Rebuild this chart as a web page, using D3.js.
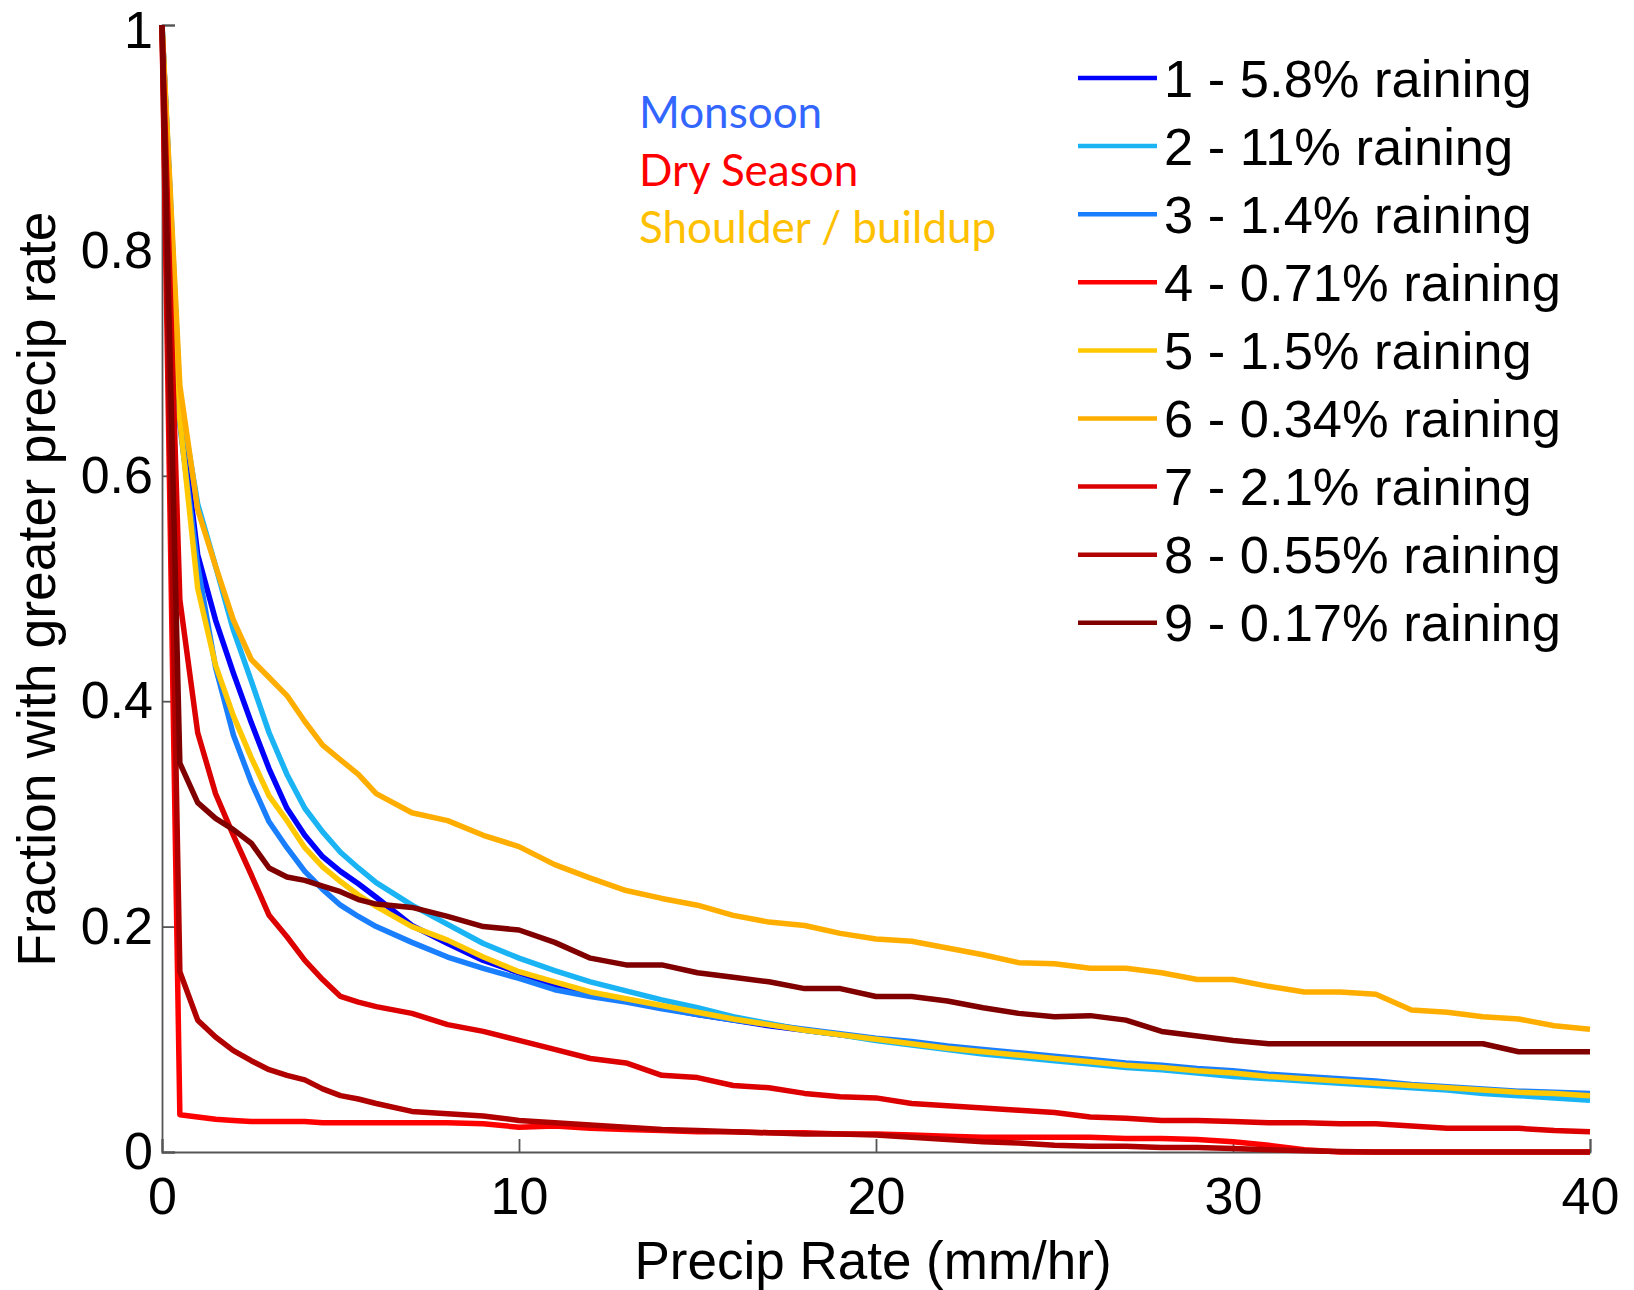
<!DOCTYPE html>
<html>
<head>
<meta charset="utf-8">
<script src="https://cdn.jsdelivr.net/npm/d3@7"></script>
<style>
  html, body { margin: 0; padding: 0; background: #fff; }
  svg { display: block; }
</style>
</head>
<body>
<svg id="chart" width="1634" height="1290"></svg>
<script>
// Precipitation rate bins (mm/hr)
const precipRate = [0, 0.5, 1, 1.5, 2, 2.5, 3, 3.5, 4, 4.5, 5, 5.5, 6,
  7, 8, 9, 10, 11, 12, 13, 14, 15, 16, 17, 18, 19, 20, 21, 22, 23, 24,
  25, 26, 27, 28, 29, 30, 31, 32, 33, 34, 35, 36, 37, 38, 39, 40];

// Fraction of raining pixels with a greater precip rate, one array per regime
const regime1 = [1, 0.66, 0.53, 0.472, 0.425, 0.381, 0.340, 0.305, 0.281, 0.262, 0.249, 0.238, 0.226,
  0.201, 0.185, 0.170, 0.159, 0.148, 0.140, 0.134, 0.128, 0.122, 0.117,
  0.112, 0.108, 0.104, 0.100, 0.096, 0.092, 0.088, 0.085, 0.082, 0.079,
  0.077, 0.074, 0.072, 0.070, 0.067, 0.065, 0.063, 0.061, 0.058, 0.056,
  0.054, 0.052, 0.050, 0.049];
const regime2 = [1, 0.67, 0.575, 0.52, 0.463, 0.418, 0.372, 0.335, 0.305, 0.284, 0.266, 0.252, 0.239,
  0.219, 0.202, 0.185, 0.172, 0.161, 0.151, 0.143, 0.135, 0.128, 0.120,
  0.114, 0.108, 0.104, 0.099, 0.095, 0.091, 0.087, 0.084, 0.081, 0.078,
  0.075, 0.073, 0.070, 0.067, 0.065, 0.063, 0.061, 0.059, 0.057, 0.055,
  0.052, 0.050, 0.048, 0.046];
const regime3 = [1, 0.645, 0.52, 0.43, 0.37, 0.328, 0.293, 0.270, 0.249, 0.233, 0.219, 0.209, 0.200,
  0.186, 0.173, 0.163, 0.154, 0.144, 0.138, 0.133, 0.127, 0.122, 0.117,
  0.113, 0.109, 0.105, 0.101, 0.098, 0.094, 0.091, 0.088, 0.085, 0.082,
  0.079, 0.077, 0.074, 0.072, 0.069, 0.067, 0.065, 0.063, 0.060, 0.058,
  0.056, 0.054, 0.053, 0.052];
const regime4 = [1, 0.033, 0.031, 0.029, 0.028, 0.027, 0.027, 0.027, 0.027, 0.026, 0.026, 0.026, 0.026,
  0.026, 0.026, 0.025, 0.022, 0.023, 0.021, 0.020, 0.019, 0.018, 0.018,
  0.017, 0.017, 0.016, 0.016, 0.015, 0.014, 0.013, 0.013, 0.013, 0.013,
  0.012, 0.012, 0.011, 0.009, 0.006, 0.002, 0, 0, 0, 0,
  0, 0, 0, 0];
const regime5 = [1, 0.65, 0.50, 0.432, 0.387, 0.35, 0.316, 0.294, 0.270, 0.253, 0.240, 0.228, 0.218,
  0.200, 0.188, 0.173, 0.160, 0.151, 0.142, 0.136, 0.130, 0.124, 0.118,
  0.113, 0.108, 0.104, 0.100, 0.096, 0.092, 0.089, 0.086, 0.083, 0.080,
  0.077, 0.075, 0.072, 0.070, 0.067, 0.065, 0.063, 0.061, 0.059, 0.057,
  0.055, 0.053, 0.052, 0.050];
const regime6 = [1, 0.68, 0.57, 0.52, 0.472, 0.437, 0.421, 0.405, 0.382, 0.361, 0.348, 0.335, 0.318,
  0.301, 0.294, 0.281, 0.271, 0.255, 0.243, 0.232, 0.225, 0.219, 0.210,
  0.204, 0.201, 0.194, 0.189, 0.187, 0.181, 0.175, 0.168, 0.167, 0.163,
  0.163, 0.159, 0.153, 0.153, 0.147, 0.142, 0.142, 0.140, 0.126, 0.124,
  0.120, 0.118, 0.112, 0.109];
const regime7 = [1, 0.49, 0.372, 0.318, 0.281, 0.246, 0.210, 0.191, 0.170, 0.153, 0.138, 0.133, 0.129,
  0.123, 0.113, 0.107, 0.099, 0.091, 0.083, 0.079, 0.068, 0.066, 0.059,
  0.057, 0.052, 0.049, 0.048, 0.043, 0.041, 0.039, 0.037, 0.035, 0.031,
  0.030, 0.028, 0.028, 0.027, 0.026, 0.026, 0.025, 0.025, 0.023, 0.021,
  0.021, 0.021, 0.019, 0.018];
const regime8 = [1, 0.16, 0.117, 0.102, 0.090, 0.081, 0.073, 0.068, 0.064, 0.056, 0.050, 0.047, 0.043,
  0.036, 0.034, 0.032, 0.028, 0.026, 0.024, 0.022, 0.020, 0.019, 0.018,
  0.017, 0.016, 0.016, 0.015, 0.013, 0.011, 0.009, 0.008, 0.006, 0.005,
  0.005, 0.004, 0.004, 0.003, 0.002, 0.001, 0.0005, 0, 0, 0,
  0, 0, 0, 0];
const regime9 = [1, 0.345, 0.31, 0.296, 0.286, 0.274, 0.252, 0.244, 0.241, 0.236, 0.231, 0.224, 0.220,
  0.217, 0.209, 0.200, 0.197, 0.186, 0.172, 0.166, 0.166, 0.159, 0.155,
  0.151, 0.145, 0.145, 0.138, 0.138, 0.134, 0.128, 0.123, 0.120, 0.121,
  0.117, 0.107, 0.103, 0.099, 0.096, 0.096, 0.096, 0.096, 0.096, 0.096,
  0.096, 0.089, 0.089, 0.089];

const seriesValues = [regime1, regime2, regime3, regime4, regime5, regime6, regime7, regime8, regime9];
const seriesLabels = ["1 - 5.8% raining", "2 - 11% raining", "3 - 1.4% raining",
  "4 - 0.71% raining", "5 - 1.5% raining", "6 - 0.34% raining",
  "7 - 2.1% raining", "8 - 0.55% raining", "9 - 0.17% raining"];
const seriesColors = ["#0000ff", "#1ab4f5", "#1a7fff", "#ff0000", "#ffc800",
  "#ffae00", "#dc0000", "#b00000", "#800000"];

const xTicks = [0, 10, 20, 30, 40];
const yTicks = [0, 0.2, 0.4, 0.6, 0.8, 1];
const yTickLabels = ["0", "0.2", "0.4", "0.6", "0.8", "1"];

const seasonNotes = ["Monsoon", "Dry Season", "Shoulder / buildup"];
const seasonColors = ["#3366ff", "#ff0000", "#ffc000"];

const svg = d3.select("#chart");
svg.append("rect").attr("width", 1634).attr("height", 1290).attr("fill", "#fff");

const plot = { left: 162, right: 1590, top: 25, bottom: 1152 };
const x = d3.scaleLinear().domain([0, 40]).range([plot.left, plot.right]);
const y = d3.scaleLinear().domain([0, 1]).range([plot.bottom, plot.top]);

const font = "'Liberation Sans', Arial, Helvetica, sans-serif";

// Axes: left and bottom only, ticks pointing inward
const xAxis = svg.append("g")
  .attr("transform", `translate(0,${plot.bottom})`)
  .call(d3.axisBottom(x).tickValues(xTicks).tickFormat(d3.format("d"))
    .tickSizeInner(-13).tickSizeOuter(-13).tickPadding(25));
const yAxis = svg.append("g")
  .attr("transform", `translate(${plot.left},0)`)
  .call(d3.axisLeft(y).tickValues(yTicks).tickFormat((d, i) => yTickLabels[i])
    .tickSizeInner(-13).tickSizeOuter(-13).tickPadding(9));

[xAxis, yAxis].forEach(g => {
  g.selectAll("path.domain").attr("stroke", "#555").attr("stroke-width", 1.8);
  g.selectAll(".tick line").attr("stroke", "#555").attr("stroke-width", 1.8);
  g.selectAll(".tick text").attr("fill", "#000")
    .style("font-family", font).style("font-size", "52px");
});
// keep the top label "1" inside the page
yAxis.selectAll(".tick text").filter(d => d === 1).attr("dy", "0.44em");

// Curves, drawn in regime order so later regimes sit on top
const line = d3.line()
  .x((d, i) => x(precipRate[i]))
  .y(d => y(d));

svg.append("g").selectAll("path")
  .data(seriesValues)
  .join("path")
  .attr("d", line)
  .attr("fill", "none")
  .attr("stroke", (d, i) => seriesColors[i])
  .attr("stroke-width", 5.5)
  .attr("stroke-linejoin", "round")
  .attr("stroke-linecap", "butt");

// Axis titles
svg.append("text")
  .attr("x", 873).attr("y", 1279)
  .attr("text-anchor", "middle")
  .style("font-family", font).style("font-size", "53px")
  .text("Precip Rate (mm/hr)");

svg.append("text")
  .attr("transform", "translate(55,589) rotate(-90)")
  .attr("text-anchor", "middle")
  .style("font-family", font).style("font-size", "53.5px")
  .text("Fraction with greater precip rate");

// Legend
const legend = svg.append("g");
const rowY = i => 78 + i * 68.1;
legend.selectAll("line")
  .data(seriesLabels)
  .join("line")
  .attr("x1", 1078).attr("x2", 1157)
  .attr("y1", (d, i) => rowY(i)).attr("y2", (d, i) => rowY(i))
  .attr("stroke", (d, i) => seriesColors[i])
  .attr("stroke-width", 4.5);
legend.selectAll("text")
  .data(seriesLabels)
  .join("text")
  .attr("x", 1164)
  .attr("y", (d, i) => rowY(i) + 18.5)
  .style("font-family", font).style("font-size", "52.5px")
  .text(d => d);

// Season annotations
svg.append("g").selectAll("text")
  .data(seasonNotes)
  .join("text")
  .attr("x", 639)
  .attr("y", (d, i) => 128 + i * 57.5)
  .attr("fill", (d, i) => seasonColors[i])
  .style("font-family", "Lato, 'Open Sans', sans-serif").style("font-size", "44px")
  .text(d => d);
</script>
</body>
</html>
